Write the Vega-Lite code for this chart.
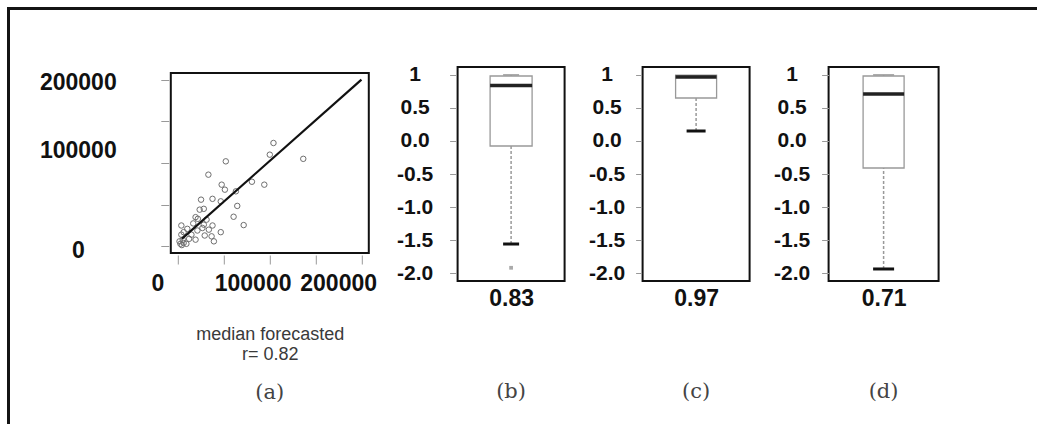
{
  "$schema": "https://vega.github.io/schema/vega-lite/v6.json",
  "padding": {"left": 7, "top": 7, "right": 0, "bottom": 0},
  "background": "white",
  "config": {
    "view": {"stroke": "#111", "strokeWidth": 2},
    "axis": {"grid": false, "domain": false, "tickColor": "#999", "tickWidth": 1, "labelFont": "Liberation Sans", "labelFontWeight": "bold", "labelColor": "#111", "labelFlush": false, "labelOverlap": false}
  },
  "spacing": 0,
  "vconcat": [
    {
      "width": 1030,
      "height": 3,
      "view": {"fill": "#141414", "stroke": null},
      "data": {"values": []},
      "mark": {"type": "text"},
      "encoding": {"text": {"value": ""}}
    },
    {
      "spacing": 16.8,
      "hconcat": [
        {
          "width": 3,
          "height": 414,
          "view": {"fill": "#141414", "stroke": null},
          "data": {"values": []},
          "mark": {"type": "text"},
          "encoding": {"text": {"value": ""}}
        },
        {
          "spacing": 0,
          "vconcat": [
            {
              "width": 1,
              "height": 60,
              "view": {"stroke": null},
              "data": {"values": []},
              "mark": {"type": "text"},
              "encoding": {"text": {"value": ""}}
            },
            {
              "width": 198,
              "height": 180,
              "title": {"text": "(a)", "orient": "bottom", "frame": "group", "anchor": "middle", "font": "DejaVu Serif", "fontSize": 21, "fontWeight": "normal", "color": "#444", "offset": 19.2},
              "encoding": {
                "x": {
                  "field": "forecast", "type": "quantitative",
                  "scale": {"domain": [-8000, 208000], "nice": false, "zero": false},
                  "axis": {
                    "values": [0, 50000, 100000, 150000, 200000],
                    "labelExpr": "datum.value % 100000 == 0 ? format(datum.value, 'd') : ''",
                    "labelFontSize": 23, "labelPadding": 8, "tickSize": 9, "offset": 2, "labelOverlap": false,
                    "labelOffset": {"condition": [{"test": "datum.value === 0", "value": -20.7}, {"test": "datum.value === 200000", "value": -23.3}], "value": -17.2},
                    "title": ["median forecasted", "r= 0.82"],
                    "titleFont": "Liberation Sans", "titleFontWeight": "normal", "titleFontSize": 18, "titleColor": "#3a3a3a", "titleLineHeight": 19.5, "titlePadding": 30.5
                  }
                },
                "y": {
                  "field": "actual", "type": "quantitative",
                  "scale": {"domain": [-8000, 208000], "nice": false, "zero": false},
                  "axis": {
                    "values": [0, 50000, 100000, 150000, 200000],
                    "labelExpr": "datum.value % 100000 == 0 ? format(datum.value, 'd') : ''",
                    "labelAlign": "center", "labelBaseline": "middle", "labelPadding": 83, "labelFontSize": 23, "tickSize": 8, "offset": 2, "labelOverlap": false,
                    "labelOffset": {"condition": [{"test": "datum.value === 100000", "value": -13}, {"test": "datum.value === 0", "value": 4}], "value": 3},
                    "title": " ", "titleFontSize": 2, "titleAngle": 0, "titleX": -140.2, "titleY": 40, "titleBaseline": "top", "titleAlign": "left"
                  }
                }
              },
              "layer": [
                {
                  "data": {"values": [
                    {"forecast": 104000, "actual": 124000},
                    {"forecast": 100000, "actual": 110000},
                    {"forecast": 136500, "actual": 105000},
                    {"forecast": 52000, "actual": 102000},
                    {"forecast": 33000, "actual": 86000},
                    {"forecast": 47500, "actual": 74000},
                    {"forecast": 51000, "actual": 68000},
                    {"forecast": 80500, "actual": 77500},
                    {"forecast": 94000, "actual": 74000},
                    {"forecast": 63000, "actual": 66000},
                    {"forecast": 25000, "actual": 56000},
                    {"forecast": 37500, "actual": 57000},
                    {"forecast": 46500, "actual": 54000},
                    {"forecast": 23500, "actual": 44000},
                    {"forecast": 28000, "actual": 45000},
                    {"forecast": 64500, "actual": 48500},
                    {"forecast": 60500, "actual": 35500},
                    {"forecast": 71500, "actual": 25500},
                    {"forecast": 3500, "actual": 25000},
                    {"forecast": 16500, "actual": 27500},
                    {"forecast": 21500, "actual": 33000},
                    {"forecast": 31000, "actual": 32000},
                    {"forecast": 37500, "actual": 25000},
                    {"forecast": 46500, "actual": 17000},
                    {"forecast": 26500, "actual": 22000},
                    {"forecast": 33500, "actual": 20000},
                    {"forecast": 39000, "actual": 6000},
                    {"forecast": 19000, "actual": 8000},
                    {"forecast": 10000, "actual": 21000},
                    {"forecast": 29000, "actual": 13000},
                    {"forecast": 36500, "actual": 12000},
                    {"forecast": 3500, "actual": 14000},
                    {"forecast": 1500, "actual": 6000},
                    {"forecast": 6000, "actual": 4000},
                    {"forecast": 2500, "actual": 3000},
                    {"forecast": 9000, "actual": 3000},
                    {"forecast": 5000, "actual": 8000},
                    {"forecast": 14500, "actual": 14000},
                    {"forecast": 21000, "actual": 19000},
                    {"forecast": 6000, "actual": 17000},
                    {"forecast": 28000, "actual": 26000},
                    {"forecast": 19000, "actual": 35000},
                    {"forecast": 12000, "actual": 9000},
                    {"forecast": 4000, "actual": 1500}
                  ]},
                  "mark": {"type": "point", "shape": "circle", "filled": false, "stroke": "#6e6e6e", "strokeWidth": 1, "size": 30, "opacity": 1}
                },
                {
                  "data": {"values": [
                    {"forecast": 4000, "actual": 9000},
                    {"forecast": 200000, "actual": 200000}
                  ]},
                  "mark": {"type": "line", "color": "#111", "strokeWidth": 2.2}
                }
              ]
            }
          ]
        },
        {
          "spacing": 0,
          "vconcat": [
            {
              "width": 1,
              "height": 52,
              "view": {"stroke": null},
              "data": {"values": []},
              "mark": {"type": "text"},
              "encoding": {"text": {"value": ""}}
            },
            {
              "spacing": 22,
              "hconcat": [
                {
                  "width": 107,
                  "height": 214,
                  "data": {"values": [{"panel": "b", "lower": -1.56, "q1": -0.076, "median": 0.84, "q3": 0.984, "upper": 1.0, "outlier": -1.92}]},
                  "title": {"text": "(b)", "orient": "bottom", "frame": "group", "anchor": "middle", "font": "DejaVu Serif", "fontSize": 21, "fontWeight": "normal", "color": "#444", "offset": 71.4},
                  "encoding": {
                    "x": {"field": "panel", "type": "nominal", "axis": {"title": "0.83", "labels": false, "ticks": false, "titleFont": "Liberation Sans", "titleFontWeight": "bold", "titleFontSize": 23, "titleColor": "#111", "titlePadding": 6}}
                  },
                  "layer": [
                    {
                      "mark": {"type": "rule", "color": "#999", "strokeDash": [3, 2], "strokeWidth": 1.5},
                      "encoding": {
                        "y": {"field": "lower", "type": "quantitative", "title": null, "scale": {"domain": [-2.12, 1.12], "nice": false, "zero": false},
                          "axis": {"title": null, "values": [-2, -1.5, -1, -0.5, 0, 0.5, 1], "labelExpr": "datum.value == 1 ? '1' : (datum.value < 0 ? '-' : '') + format(abs(datum.value), '.1f')", "labelAlign": "center", "labelBaseline": "middle", "labelPadding": 35, "labelFontSize": 21, "tickSize": 6, "offset": 2, "labelOverlap": false}},
                        "y2": {"field": "q1"}
                      }
                    },
                    {
                      "mark": {"type": "rule", "color": "#999", "strokeDash": [3, 2], "strokeWidth": 1.5},
                      "encoding": {
                        "y": {"field": "q3", "type": "quantitative", "title": null,
                          "axis": {"title": null, "values": [-2, -1.5, -1, -0.5, 0, 0.5, 1], "labelExpr": "datum.value == 1 ? '1' : (datum.value < 0 ? '-' : '') + format(abs(datum.value), '.1f')", "labelAlign": "center", "labelBaseline": "middle", "labelPadding": 35, "labelFontSize": 21, "tickSize": 6, "offset": 2, "labelOverlap": false}},
                        "y2": {"field": "upper"}
                      }
                    },
                    {
                      "mark": {"type": "bar", "fill": "white", "stroke": "#999", "strokeWidth": 1.3, "size": 42},
                      "encoding": {
                        "y": {"field": "q1", "type": "quantitative", "title": null,
                          "axis": {"title": null, "values": [-2, -1.5, -1, -0.5, 0, 0.5, 1], "labelExpr": "datum.value == 1 ? '1' : (datum.value < 0 ? '-' : '') + format(abs(datum.value), '.1f')", "labelAlign": "center", "labelBaseline": "middle", "labelPadding": 35, "labelFontSize": 21, "tickSize": 6, "offset": 2, "labelOverlap": false}},
                        "y2": {"field": "q3"}
                      }
                    },
                    {
                      "mark": {"type": "tick", "color": "#999", "size": 16, "thickness": 1.5, "opacity": 1},
                      "encoding": {
                        "y": {"field": "upper", "type": "quantitative", "title": null,
                          "axis": {"title": null, "values": [-2, -1.5, -1, -0.5, 0, 0.5, 1], "labelExpr": "datum.value == 1 ? '1' : (datum.value < 0 ? '-' : '') + format(abs(datum.value), '.1f')", "labelAlign": "center", "labelBaseline": "middle", "labelPadding": 35, "labelFontSize": 21, "tickSize": 6, "offset": 2, "labelOverlap": false}}
                      }
                    },
                    {
                      "mark": {"type": "tick", "color": "#111", "size": 16, "thickness": 3, "opacity": 1},
                      "encoding": {
                        "y": {"field": "lower", "type": "quantitative", "title": null,
                          "axis": {"title": null, "values": [-2, -1.5, -1, -0.5, 0, 0.5, 1], "labelExpr": "datum.value == 1 ? '1' : (datum.value < 0 ? '-' : '') + format(abs(datum.value), '.1f')", "labelAlign": "center", "labelBaseline": "middle", "labelPadding": 35, "labelFontSize": 21, "tickSize": 6, "offset": 2, "labelOverlap": false}}
                      }
                    },
                    {
                      "mark": {"type": "tick", "color": "#222", "size": 42, "thickness": 3.5, "opacity": 1},
                      "encoding": {
                        "y": {"field": "median", "type": "quantitative", "title": null,
                          "axis": {"title": null, "values": [-2, -1.5, -1, -0.5, 0, 0.5, 1], "labelExpr": "datum.value == 1 ? '1' : (datum.value < 0 ? '-' : '') + format(abs(datum.value), '.1f')", "labelAlign": "center", "labelBaseline": "middle", "labelPadding": 35, "labelFontSize": 21, "tickSize": 6, "offset": 2, "labelOverlap": false}}
                      }
                    },
                    {
                      "mark": {"type": "point", "shape": "square", "filled": true, "color": "#aaa", "size": 14, "opacity": 1},
                      "encoding": {
                        "y": {"field": "outlier", "type": "quantitative", "title": null,
                          "axis": {"title": null, "values": [-2, -1.5, -1, -0.5, 0, 0.5, 1], "labelExpr": "datum.value == 1 ? '1' : (datum.value < 0 ? '-' : '') + format(abs(datum.value), '.1f')", "labelAlign": "center", "labelBaseline": "middle", "labelPadding": 35, "labelFontSize": 21, "tickSize": 6, "offset": 2, "labelOverlap": false}}
                      }
                    }
                  ]
                },
                {
                  "width": 107,
                  "height": 214,
                  "data": {"values": [{"panel": "c", "lower": 0.151, "q1": 0.651, "median": 0.97, "q3": 0.995, "upper": 1.0}]},
                  "title": {"text": "(c)", "orient": "bottom", "frame": "group", "anchor": "middle", "font": "DejaVu Serif", "fontSize": 21, "fontWeight": "normal", "color": "#444", "offset": 71.4},
                  "encoding": {
                    "x": {"field": "panel", "type": "nominal", "axis": {"title": "0.97", "labels": false, "ticks": false, "titleFont": "Liberation Sans", "titleFontWeight": "bold", "titleFontSize": 23, "titleColor": "#111", "titlePadding": 6}}
                  },
                  "layer": [
                    {
                      "mark": {"type": "rule", "color": "#999", "strokeDash": [3, 2], "strokeWidth": 1.5},
                      "encoding": {
                        "y": {"field": "lower", "type": "quantitative", "title": null, "scale": {"domain": [-2.12, 1.12], "nice": false, "zero": false},
                          "axis": {"title": null, "values": [-2, -1.5, -1, -0.5, 0, 0.5, 1], "labelExpr": "datum.value == 1 ? '1' : (datum.value < 0 ? '-' : '') + format(abs(datum.value), '.1f')", "labelAlign": "center", "labelBaseline": "middle", "labelPadding": 28.9, "labelFontSize": 21, "tickSize": 6, "offset": 1, "labelOverlap": false}},
                        "y2": {"field": "q1"}
                      }
                    },
                    {
                      "mark": {"type": "bar", "fill": "white", "stroke": "#999", "strokeWidth": 1.3, "size": 41},
                      "encoding": {
                        "y": {"field": "q1", "type": "quantitative", "title": null,
                          "axis": {"title": null, "values": [-2, -1.5, -1, -0.5, 0, 0.5, 1], "labelExpr": "datum.value == 1 ? '1' : (datum.value < 0 ? '-' : '') + format(abs(datum.value), '.1f')", "labelAlign": "center", "labelBaseline": "middle", "labelPadding": 28.9, "labelFontSize": 21, "tickSize": 6, "offset": 1, "labelOverlap": false}},
                        "y2": {"field": "q3"}
                      }
                    },
                    {
                      "mark": {"type": "tick", "color": "#111", "size": 19, "thickness": 3, "opacity": 1},
                      "encoding": {
                        "y": {"field": "lower", "type": "quantitative", "title": null,
                          "axis": {"title": null, "values": [-2, -1.5, -1, -0.5, 0, 0.5, 1], "labelExpr": "datum.value == 1 ? '1' : (datum.value < 0 ? '-' : '') + format(abs(datum.value), '.1f')", "labelAlign": "center", "labelBaseline": "middle", "labelPadding": 28.9, "labelFontSize": 21, "tickSize": 6, "offset": 1, "labelOverlap": false}}
                      }
                    },
                    {
                      "mark": {"type": "tick", "color": "#222", "size": 41, "thickness": 3.5, "opacity": 1},
                      "encoding": {
                        "y": {"field": "median", "type": "quantitative", "title": null,
                          "axis": {"title": null, "values": [-2, -1.5, -1, -0.5, 0, 0.5, 1], "labelExpr": "datum.value == 1 ? '1' : (datum.value < 0 ? '-' : '') + format(abs(datum.value), '.1f')", "labelAlign": "center", "labelBaseline": "middle", "labelPadding": 28.9, "labelFontSize": 21, "tickSize": 6, "offset": 1, "labelOverlap": false}}
                      }
                    }
                  ]
                },
                {
                  "width": 110,
                  "height": 214,
                  "data": {"values": [{"panel": "d", "lower": -1.938, "q1": -0.409, "median": 0.711, "q3": 0.984, "upper": 1.0}]},
                  "title": {"text": "(d)", "orient": "bottom", "frame": "group", "anchor": "middle", "font": "DejaVu Serif", "fontSize": 21, "fontWeight": "normal", "color": "#444", "offset": 71.4},
                  "encoding": {
                    "x": {"field": "panel", "type": "nominal", "axis": {"title": "0.71", "labels": false, "ticks": false, "titleFont": "Liberation Sans", "titleFontWeight": "bold", "titleFontSize": 23, "titleColor": "#111", "titlePadding": 6}}
                  },
                  "layer": [
                    {
                      "mark": {"type": "rule", "color": "#999", "strokeDash": [3, 2], "strokeWidth": 1.5},
                      "encoding": {
                        "y": {"field": "lower", "type": "quantitative", "title": null, "scale": {"domain": [-2.12, 1.12], "nice": false, "zero": false},
                          "axis": {"title": null, "values": [-2, -1.5, -1, -0.5, 0, 0.5, 1], "labelExpr": "datum.value == 1 ? '1' : (datum.value < 0 ? '-' : '') + format(abs(datum.value), '.1f')", "labelAlign": "center", "labelBaseline": "middle", "labelPadding": 29.9, "labelFontSize": 21, "tickSize": 7, "offset": 0, "labelOverlap": false}},
                        "y2": {"field": "q1"}
                      }
                    },
                    {
                      "mark": {"type": "rule", "color": "#999", "strokeDash": [3, 2], "strokeWidth": 1.5},
                      "encoding": {
                        "y": {"field": "q3", "type": "quantitative", "title": null,
                          "axis": {"title": null, "values": [-2, -1.5, -1, -0.5, 0, 0.5, 1], "labelExpr": "datum.value == 1 ? '1' : (datum.value < 0 ? '-' : '') + format(abs(datum.value), '.1f')", "labelAlign": "center", "labelBaseline": "middle", "labelPadding": 29.9, "labelFontSize": 21, "tickSize": 7, "offset": 0, "labelOverlap": false}},
                        "y2": {"field": "upper"}
                      }
                    },
                    {
                      "mark": {"type": "bar", "fill": "white", "stroke": "#999", "strokeWidth": 1.3, "size": 41},
                      "encoding": {
                        "y": {"field": "q1", "type": "quantitative", "title": null,
                          "axis": {"title": null, "values": [-2, -1.5, -1, -0.5, 0, 0.5, 1], "labelExpr": "datum.value == 1 ? '1' : (datum.value < 0 ? '-' : '') + format(abs(datum.value), '.1f')", "labelAlign": "center", "labelBaseline": "middle", "labelPadding": 29.9, "labelFontSize": 21, "tickSize": 7, "offset": 0, "labelOverlap": false}},
                        "y2": {"field": "q3"}
                      }
                    },
                    {
                      "mark": {"type": "tick", "color": "#999", "size": 21, "thickness": 1.5, "opacity": 1},
                      "encoding": {
                        "y": {"field": "upper", "type": "quantitative", "title": null,
                          "axis": {"title": null, "values": [-2, -1.5, -1, -0.5, 0, 0.5, 1], "labelExpr": "datum.value == 1 ? '1' : (datum.value < 0 ? '-' : '') + format(abs(datum.value), '.1f')", "labelAlign": "center", "labelBaseline": "middle", "labelPadding": 29.9, "labelFontSize": 21, "tickSize": 7, "offset": 0, "labelOverlap": false}}
                      }
                    },
                    {
                      "mark": {"type": "tick", "color": "#111", "size": 21, "thickness": 3, "opacity": 1},
                      "encoding": {
                        "y": {"field": "lower", "type": "quantitative", "title": null,
                          "axis": {"title": null, "values": [-2, -1.5, -1, -0.5, 0, 0.5, 1], "labelExpr": "datum.value == 1 ? '1' : (datum.value < 0 ? '-' : '') + format(abs(datum.value), '.1f')", "labelAlign": "center", "labelBaseline": "middle", "labelPadding": 29.9, "labelFontSize": 21, "tickSize": 7, "offset": 0, "labelOverlap": false}}
                      }
                    },
                    {
                      "mark": {"type": "tick", "color": "#222", "size": 41, "thickness": 3.5, "opacity": 1},
                      "encoding": {
                        "y": {"field": "median", "type": "quantitative", "title": null,
                          "axis": {"title": null, "values": [-2, -1.5, -1, -0.5, 0, 0.5, 1], "labelExpr": "datum.value == 1 ? '1' : (datum.value < 0 ? '-' : '') + format(abs(datum.value), '.1f')", "labelAlign": "center", "labelBaseline": "middle", "labelPadding": 29.9, "labelFontSize": 21, "tickSize": 7, "offset": 0, "labelOverlap": false}}
                      }
                    }
                  ]
                }
              ]
            }
          ]
        }
      ]
    }
  ]
}
